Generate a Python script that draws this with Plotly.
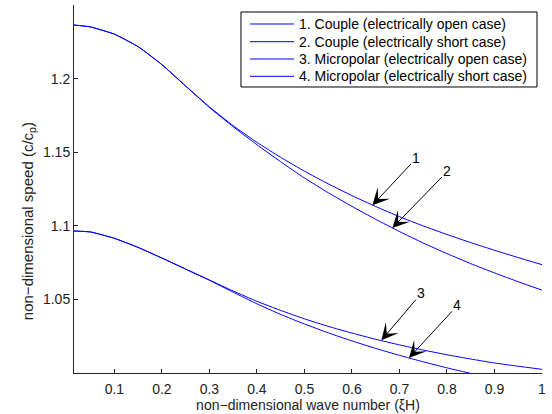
import plotly.graph_objects as go

# Wave number samples (xi*H)
wave_number = [0.015, 0.05, 0.1, 0.15, 0.2, 0.25, 0.3, 0.35, 0.4, 0.45, 0.5,
               0.55, 0.6, 0.65, 0.7, 0.75, 0.8, 0.85, 0.9, 0.95, 1.0]

# Non-dimensional phase speed c/c_p for each case
couple_open = [1.2364, 1.2351, 1.2302, 1.2217, 1.2095, 1.1950, 1.1808, 1.1680,
               1.1567, 1.1465, 1.1371, 1.1285, 1.1205, 1.1131, 1.1062, 1.0999,
               1.0941, 1.0886, 1.0834, 1.0784, 1.0736]
couple_short = [1.2364, 1.2351, 1.2302, 1.2217, 1.2095, 1.1949, 1.1804, 1.1673,
                1.1551, 1.1435, 1.1325, 1.1225, 1.1132, 1.1044, 1.0961, 1.0883,
                1.0811, 1.0743, 1.0680, 1.0620, 1.0563]
micropolar_open = [1.0965, 1.0958, 1.0915, 1.0853, 1.0781, 1.0706, 1.0632, 1.0557,
                   1.0487, 1.0425, 1.0368, 1.0317, 1.0271, 1.0229, 1.0191, 1.0156,
                   1.0124, 1.0095, 1.0068, 1.0046, 1.0025]
micropolar_short = [1.0965, 1.0958, 1.0915, 1.0853, 1.0781, 1.0706, 1.0630, 1.0549,
                    1.0470, 1.0398, 1.0333, 1.0273, 1.0218, 1.0167, 1.0120, 1.0076,
                    1.0035, 0.9997, 0.9961, 0.9927, 0.9895]

series_names = ["1. Couple (electrically open case)",
                "2. Couple (electrically short case)",
                "3. Micropolar (electrically open case)",
                "4. Micropolar (electrically short case)"]
series_values = [couple_open, couple_short, micropolar_open, micropolar_short]

x_ticks = [0.1, 0.2, 0.3, 0.4, 0.5, 0.6, 0.7, 0.8, 0.9, 1.0]
x_tick_labels = ["0.1", "0.2", "0.3", "0.4", "0.5", "0.6", "0.7", "0.8", "0.9", "1"]
y_ticks = [1.05, 1.1, 1.15, 1.2]
y_tick_labels = ["1.05", "1.1", "1.15", "1.2"]

# Curve labels: (text, arrow tip x, tip y, label x, label y)
curve_labels = [
    ("1", 0.643, 1.1140, 0.7358, 1.1460),
    ("2", 0.685, 1.0985, 0.8010, 1.1370),
    ("3", 0.662, 1.0222, 0.7463, 1.0543),
    ("4", 0.720, 1.0102, 0.8220, 1.0459),
]

FONT = "Liberation Sans, Arial, Helvetica, sans-serif"
BLUE = "#0000ff"
TEXT = "#222222"

fig = go.Figure()
for name, values in zip(series_names, series_values):
    fig.add_trace(go.Scatter(
        x=wave_number, y=values, name=name, mode="lines",
        line=dict(color=BLUE, width=1, shape="spline", smoothing=0.4),
        showlegend=False,
    ))

# Numbered arrows pointing at each curve
for text, tx, ty, lx, ly in curve_labels:
    fig.add_annotation(
        x=tx, y=ty, ax=lx, ay=ly, xref="x", yref="y", axref="x", ayref="y",
        text=text, showarrow=True, arrowhead=3, arrowsize=2.8, arrowwidth=1,
        arrowcolor="black", font=dict(family=FONT, size=14, color="black"),
    )

# Legend box drawn in paper coordinates
legend_left, legend_right = 0.3568, 0.9893
legend_top, legend_bottom = 0.981, 0.7772
row_y = [0.9484, 0.9003, 0.8533, 0.8062]
sample_x0, sample_x1, text_x = 0.3761, 0.4701, 0.4765

fig.add_shape(type="rect", xref="paper", yref="paper",
              x0=legend_left, x1=legend_right, y0=legend_bottom, y1=legend_top,
              line=dict(color="black", width=1), fillcolor="white", layer="above")
for name, ry in zip(series_names, row_y):
    fig.add_shape(type="line", xref="paper", yref="paper",
                  x0=sample_x0, x1=sample_x1, y0=ry, y1=ry,
                  line=dict(color=BLUE, width=1), layer="above")
    fig.add_annotation(xref="paper", yref="paper", x=text_x, y=ry,
                       xanchor="left", yanchor="middle", text=name,
                       showarrow=False,
                       font=dict(family=FONT, size=14, color="black"))

# Y-axis label
fig.add_annotation(xref="paper", yref="paper", x=-0.098, y=0.413,
                   xanchor="center", yanchor="middle", textangle=-90,
                   text="non\u2212dimensional speed (c/c<sub>p</sub>)",
                   showarrow=False, font=dict(family=FONT, size=15, color=TEXT))

axis_common = dict(
    showgrid=False, zeroline=False, showline=True, linecolor="#262626",
    linewidth=1, ticks="inside", ticklen=4, tickcolor="#262626",
    mirror=False, tickfont=dict(family=FONT, size=14, color=TEXT),
)

fig.update_layout(
    width=552, height=414,
    margin=dict(l=74, r=10, t=5, b=41),
    paper_bgcolor="white", plot_bgcolor="white",
    font=dict(family=FONT, size=14, color=TEXT),
    showlegend=False,
    xaxis=dict(
        range=[0.015, 1.0], tickvals=x_ticks, ticktext=x_tick_labels,
        ticklabelstandoff=3,
        title=dict(text="non\u2212dimensional wave number (\u03beH)",
                   standoff=1, font=dict(family=FONT, size=14, color=TEXT)),
        **axis_common,
    ),
    yaxis=dict(
        range=[1.0, 1.25], tickvals=y_ticks, ticktext=y_tick_labels,
        **axis_common,
    ),
)

fig.write_html("out.html")
